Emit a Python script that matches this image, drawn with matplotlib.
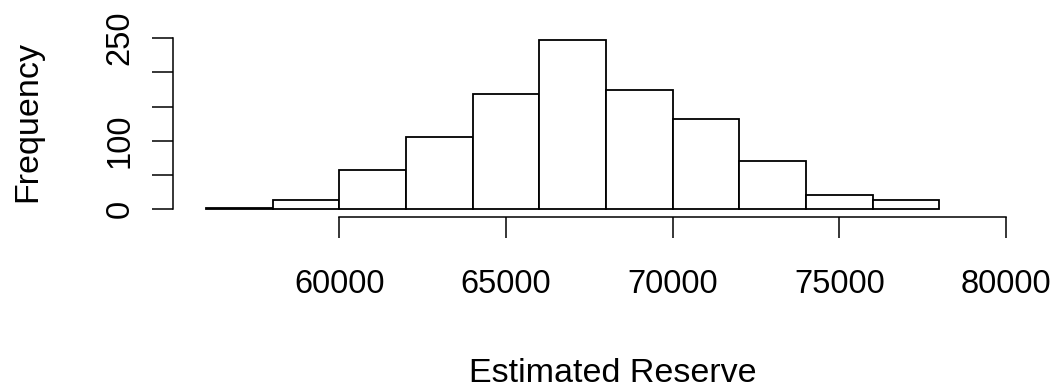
import matplotlib
matplotlib.use("Agg")
import matplotlib.pyplot as plt

bin_edges = [56000, 58000, 60000, 62000, 64000, 66000, 68000, 70000, 72000, 74000, 76000, 78000]
counts = [2, 13, 57, 106, 168, 248, 175, 132, 71, 21, 14]
x_ticks = [60000, 65000, 70000, 75000, 80000]
x_tick_labels = ["60000", "65000", "70000", "75000", "80000"]
y_ticks = [0, 50, 100, 150, 200, 250]
y_tick_labels = ["0", "", "100", "", "", "250"]
x_label = "Estimated Reserve"
y_label = "Frequency"

plt.rcParams['font.family'] = ['Liberation Sans', 'DejaVu Sans']
W, H = 1057, 388
fig = plt.figure(figsize=(W / 100, H / 100), dpi=100)
left_px, right_px, top_px, bottom_px = 172.7, 1006, 30, 216.7
ax = fig.add_axes([left_px / W, 1 - bottom_px / H, (right_px - left_px) / W, (bottom_px - top_px) / H])

widths = [bin_edges[i + 1] - bin_edges[i] for i in range(len(counts))]
ax.bar(bin_edges[:-1], counts, width=widths, align='edge', facecolor='white',
       edgecolor='black', linewidth=1.3)

ax.set_xlim(55000, 80000)
ax.set_ylim(-10.8, 262)

for s in ['top', 'right']:
    ax.spines[s].set_visible(False)
ax.spines['bottom'].set_bounds(x_ticks[0], x_ticks[-1])
ax.spines['left'].set_bounds(y_ticks[0], y_ticks[-1])
for s in ['bottom', 'left']:
    ax.spines[s].set_linewidth(1.1)

ax.set_xticks(x_ticks)
ax.set_xticklabels(x_tick_labels)
ax.set_yticks(y_ticks)
ax.set_yticklabels(y_tick_labels, rotation=90, va='center')
ax.tick_params(axis='both', length=15.3, width=1.1, labelsize=23.5)
ax.tick_params(axis='x', pad=22)
ax.tick_params(axis='y', pad=11.5)

fig.text(613 / W, 1 - 382 / H, x_label, ha='center', va='baseline', fontsize=24.5)
fig.text(27.6 / W, 1 - 121.5 / H, y_label, ha='center', va='center', rotation=90, fontsize=24.5)

fig.savefig("out.png", dpi=100, facecolor='white')
